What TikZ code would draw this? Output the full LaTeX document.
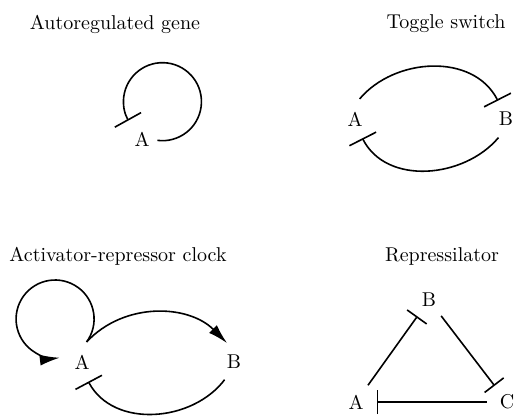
\documentclass[tikz,border=0pt]{standalone}
\usetikzlibrary{arrows.meta, positioning}

\begin{document}
\begin{tikzpicture}[
  x=0.5pt, y=-0.5pt, line width=0.8pt,
  gene/.style={circle, inner sep=3.33pt},
  title/.style={inner sep=0pt},
  rep/.style={-{Bar[width=15pt]}},
  represS/.style={-{Bar[width=12pt]}},
  act/.style={-{Latex[length=10pt, width=5.5pt]}}
]
  \useasboundingbox (0,0) rectangle (522,418);

  % titles
  \node[title] (t1) at (115,24) {Autoregulated gene};
  \node[title] (t2) at (446,24) {Toggle switch};
  \node[title] (t3) at (118,256) {Activator-repressor clock};
  \node[title] (t4) at (442,256) {Repressilator};

  % autoregulated gene
  \node[gene, inner sep=1.5pt] (R) at (142,139) {A};
  \draw[rep] (R.-5) arc[start angle=-97.5, end angle=209, radius=19.5pt];

  % toggle switch
  \node[gene] (TA) at (355,119) {A};
  \node[gene] (TB) at (506,119) {B};
  \draw[rep] (TA.77) to[out=50, in=117] (TB.114);
  \draw[rep] (TB.-112) to[out=-130, in=-63] (TA.-69);

  % activator-repressor clock
  \node[gene] (CA) at (82,362) {A};
  \node[gene] (CB) at (234,362) {B};
  \draw[act] (CA.77) arc[start angle=-36, end angle=277, radius=19.5pt];
  \draw[act] (CA.77) to[out=47, in=135] (CB.110);
  \draw[rep] (CB.-118) to[out=-127, in=-62] (CA.-72);

  % repressilator
  \node[gene] (PA) at (356,402) {A};
  \node[gene] (PB) at (429,300) {B};
  \node[gene] (PC) at (507,402) {C};
  \draw[represS] (PA) -- (PB);
  \draw[represS] (PB) -- (PC);
  \draw[represS] (PC) -- (PA);
\end{tikzpicture}
\end{document}
